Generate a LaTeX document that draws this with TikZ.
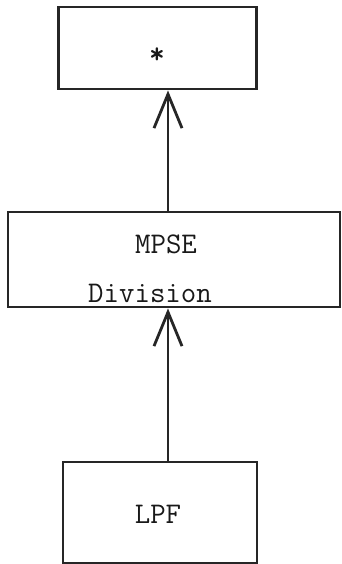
\documentclass[tikz,border=0pt]{standalone}
\usetikzlibrary{arrows.meta}
\begin{document}
\begin{tikzpicture}[x=1pt,y=-1pt,
  boxst/.style={draw=black!85, line width=2.9pt, inner sep=0pt},
  lbl/.style={font=\ttfamily\fontsize{30}{34}\selectfont, text=black!90},
  conn/.style={draw=black!85, line width=2.8pt, -{Straight Barb[length=34pt,width=28pt,line width=2.8pt]}}]
\useasboundingbox (0,0) rectangle (342,564);
\fill[white] (0,0) rectangle (342,564);
% boxes
\node[boxst, minimum width=198pt, minimum height=82pt] (top) at (157.5,48) {};
\node[boxst, minimum width=332pt, minimum height=95pt] (mid) at (174,259.5) {};
\node[boxst, minimum width=194pt, minimum height=101pt] (bot) at (160,512.5) {};
% texts
\node[lbl, font=\ttfamily\bfseries\fontsize{30}{30}\selectfont] (star) at (157,56) {*};
\node[lbl] (mpse) at (166,244) {MPSE};
\node[lbl] (div) at (150,293) {Division};
\node[lbl] (lpf) at (158,514) {LPF};
% connectors
\draw[conn] (mid.north -| 168,0) -- (top.south -| 168,0);
\draw[conn] (bot.north -| 168,0) -- (mid.south -| 168,0);
\end{tikzpicture}
\end{document}
